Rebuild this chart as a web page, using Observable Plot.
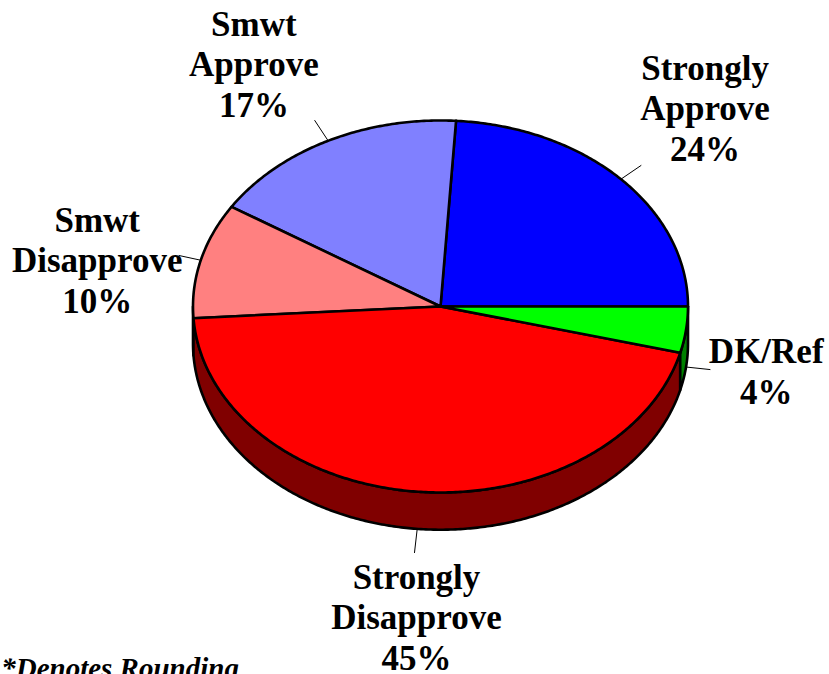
<!DOCTYPE html>
<html>
<head>
<meta charset="utf-8">
<style>html,body{margin:0;padding:0;background:#fff;overflow:hidden}svg{display:block}</style>
<script src="https://cdn.jsdelivr.net/npm/d3@7"></script>
<script src="https://cdn.jsdelivr.net/npm/@observablehq/plot@0.6"></script>
</head>
<body>
<div id="chart"></div>
<script>
// Data
const categories = ["Strongly\nApprove", "Smwt\nApprove", "Smwt\nDisapprove", "Strongly\nDisapprove", "DK/Ref"];
const percents = [24, 17, 10, 45, 4];
const topColors = ["#0000ff", "#8080ff", "#ff8080", "#ff0000", "#00ff00"];
const sideColors = ["#000080", "#404080", "#804040", "#800000", "#008000"];
const footnote = "*Denotes Rounding";

// Layout, in units of the pie radius
const depth = 0.2;
const labelX = [1.069, -0.754, -1.387, -0.097, 1.316];
const labelY = [1.072, 1.308, 0.254, -1.665, -0.345];
const leaderEndX = [0.81, -0.508, -1.056, -0.105, 1.089];
const leaderEndY = [0.758, 1, 0.274, -1.323, -0.339];

const total = d3.sum(percents);
const cum = d3.cumsum(percents);
const slices = percents.map((v, i) => {
  const a1 = (i ? cum[i - 1] : 0) / total * 2 * Math.PI;
  const a2 = cum[i] / total * 2 * Math.PI;
  return {i, a1, a2, mid: (a1 + a2) / 2};
});
const arc = (a, b) => {
  const n = Math.max(2, Math.ceil(Math.abs(b - a) / 0.01));
  return d3.range(n + 1).map(k => a + (b - a) * k / n);
};
const pts = [];
// front side walls: only the part of each slice below the centre line
slices.forEach(s => {
  const a = Math.max(s.a1, Math.PI), b = s.a2;
  if (b <= a) return;
  const as = arc(a, b);
  const key = "side" + s.i, fill = sideColors[s.i];
  as.forEach(t => pts.push({key, fill, x: Math.cos(t), y: Math.sin(t)}));
  as.slice().reverse().forEach(t => pts.push({key, fill, x: Math.cos(t), y: Math.sin(t) - depth}));
});
// top faces
slices.forEach(s => {
  const key = "top" + s.i, fill = topColors[s.i];
  pts.push({key, fill, x: 0, y: 0});
  arc(s.a1, s.a2).forEach(t => pts.push({key, fill, x: Math.cos(t), y: Math.sin(t)}));
});
// leader lines start on the visible rim at the slice's mid angle
const leaders = [];
slices.forEach(s => {
  const drop = Math.sin(s.mid) < 0 ? depth : 0;
  leaders.push({key: s.i, x: Math.cos(s.mid), y: Math.sin(s.mid) - drop});
  leaders.push({key: s.i, x: leaderEndX[s.i], y: leaderEndY[s.i]});
});
const labels = slices.map(s => ({
  text: categories[s.i] + "\n" + percents[s.i] + "%",
  x: labelX[s.i], y: labelY[s.i]
}));

const chart = Plot.plot({
  width: 829, height: 674,
  marginTop: 0, marginRight: 0, marginBottom: 0, marginLeft: 0,
  style: {background: "#fff"},
  x: {domain: [-1, 1], range: [192.5, 687.5], axis: null},
  y: {domain: [-1, 1], range: [492, 120], axis: null},
  color: {type: "identity"},
  marks: [
    Plot.line(leaders, {x: "x", y: "y", z: "key", stroke: "black", strokeWidth: 1}),
    Plot.line(pts, {x: "x", y: "y", z: "key", fill: "fill", stroke: "black", strokeWidth: 2.6,
      curve: "linear-closed", strokeLinejoin: "round"}),
    Plot.text(labels, {x: "x", y: "y", text: "text", fontFamily: "Liberation Serif", fontWeight: "bold",
      fontSize: 35, lineHeight: 1.16, fill: "black", lineAnchor: "middle", textAnchor: "middle"}),
    Plot.text([footnote], {x: [-1.775], y: [-1.945], text: d => d, fontFamily: "Liberation Serif",
      fontWeight: "bold", fontStyle: "italic", fontSize: 29, fill: "black", textAnchor: "start", lineAnchor: "middle"})
  ]
});
document.getElementById("chart").appendChild(chart);
</script>
</body>
</html>
